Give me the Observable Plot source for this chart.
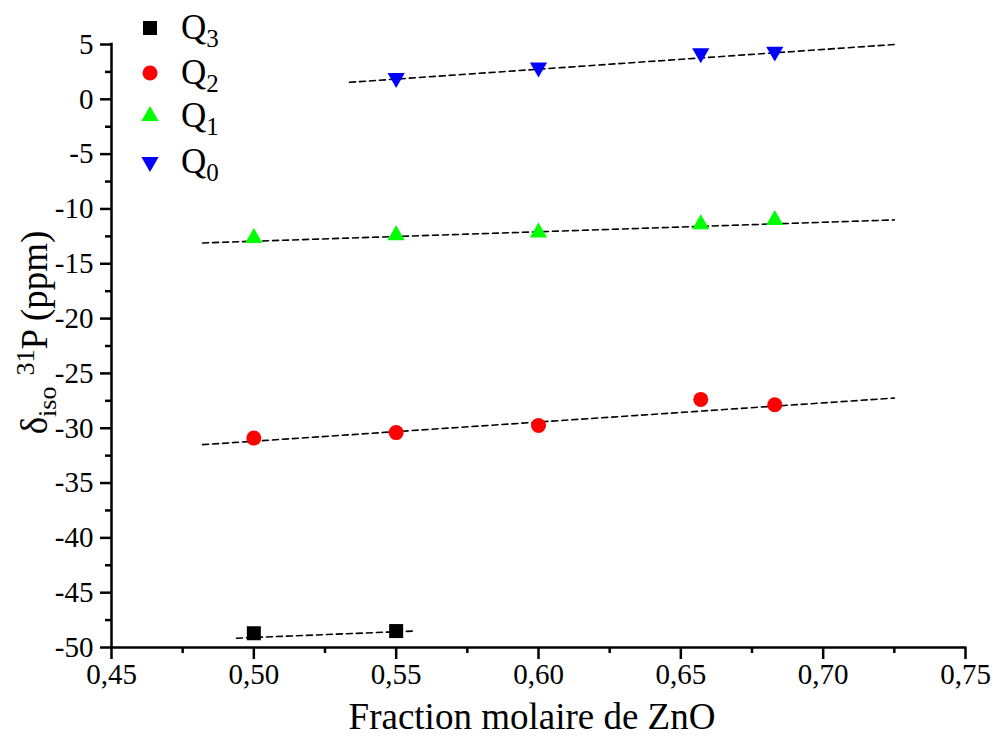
<!DOCTYPE html>
<html>
<head>
<meta charset="utf-8">
<script src="https://cdn.jsdelivr.net/npm/d3@7"></script>
<script src="https://cdn.jsdelivr.net/npm/@observablehq/plot@0.6"></script>
<style>
  html, body { margin: 0; padding: 0; background: #fff; }
  #chart { position: relative; width: 994px; height: 736px; }
  #chart svg text, #chart svg tspan { font-family: "Liberation Serif", "Times New Roman", serif !important; }
</style>
</head>
<body>
<div id="chart"></div>
<script>
// ---- data ----
const q3X = [0.50, 0.55];
const q3Y = [-48.7, -48.5];
const q2X = [0.50, 0.55, 0.60, 0.657, 0.683];
const q2Y = [-30.9, -30.4, -29.75, -27.37, -27.86];
const q1X = [0.50, 0.55, 0.60, 0.657, 0.683];
const q1Y = [-12.65, -12.4, -12.15, -11.4, -11.0];
const q0X = [0.55, 0.60, 0.657, 0.683];
const q0Y = [1.95, 2.9, 4.2, 4.35];

// dashed linear fits (end points)
const fit3X = [0.4939, 0.556];
const fit3Y = [-49.15, -48.5];
const fit2X = [0.482, 0.725];
const fit2Y = [-31.5, -27.25];
const fit1X = [0.482, 0.725];
const fit1Y = [-13.1, -11.0];
const fit0X = [0.5336, 0.725];
const fit0Y = [1.55, 5.0];

const seriesNames = ["3", "2", "1", "0"]; // Q subscripts
const seriesColors = ["#000000", "#ff0000", "#00ff00", "#0000ff"];

const xMajor = [0.45, 0.50, 0.55, 0.60, 0.65, 0.70, 0.75];
const xMinor = [0.475, 0.525, 0.575, 0.625, 0.675, 0.725];
const yMajor = [-50, -45, -40, -35, -30, -25, -20, -15, -10, -5, 0, 5];
const yMinor = [-47.5, -42.5, -37.5, -32.5, -27.5, -22.5, -17.5, -12.5, -7.5, -2.5, 2.5];

const xTitle = "Fraction molaire de ZnO";

// ---- symbols ----
const triDown = {
  draw(ctx, size) {
    const y = -Math.sqrt(size / (Math.sqrt(3) * 3));
    ctx.moveTo(0, -y * 2);
    ctx.lineTo(-Math.sqrt(3) * y, y);
    ctx.lineTo(Math.sqrt(3) * y, y);
    ctx.closePath();
  }
};
const symbols = [d3.symbolSquare, d3.symbolCircle, d3.symbolTriangle, triDown];
const radii = [7.9, 7.5, 6.4, 6.4];

const toRows = (xs, ys) => xs.map((x, i) => ({x, y: ys[i]}));
const pts = [toRows(q3X, q3Y), toRows(q2X, q2Y), toRows(q1X, q1Y), toRows(q0X, q0Y)];
const fits = [toRows(fit3X, fit3Y), toRows(fit2X, fit2Y), toRows(fit1X, fit1Y), toRows(fit0X, fit0Y)];

const fmtX = d => d3.format(".2f")(d).replace(".", ",");
const fmtY = d => String(d);

const FONT = "'Liberation Serif', 'Times New Roman', serif";

const chart = Plot.plot({
  width: 994,
  height: 736,
  marginLeft: 111,
  marginRight: 29,
  marginTop: 44,
  marginBottom: 89,
  x: {domain: [0.45, 0.75]},
  y: {domain: [-50, 5]},
  style: {fontFamily: FONT, fontSize: "28px", color: "black", background: "white", overflow: "visible"},
  marks: [
    Plot.axisX(xMajor, {anchor: "bottom", tickSize: 12, tickPadding: 4, tickFormat: fmtX, strokeWidth: 2.5, label: null, fontFamily: FONT, fontSize: 29}),
    Plot.axisX(xMinor, {anchor: "bottom", tickSize: 6, text: null, strokeWidth: 2.5, label: null}),
    Plot.axisY(yMajor, {anchor: "left", tickSize: 11, tickPadding: 7, tickFormat: fmtY, strokeWidth: 2.5, label: null, fontFamily: FONT, fontSize: 29}),
    Plot.axisY(yMinor, {anchor: "left", tickSize: 6, text: null, strokeWidth: 2.5, label: null}),
    Plot.ruleY([-50], {strokeWidth: 2.5, strokeLinecap: "square"}),
    Plot.ruleX([0.45], {strokeWidth: 2.5, strokeLinecap: "square"}),
    ...fits.map(f => Plot.line(f, {x: "x", y: "y", stroke: "black", strokeWidth: 1.6, strokeDasharray: "6,4"})),
    ...pts.map((p, i) => Plot.dot(p, {x: "x", y: "y", symbol: symbols[i], r: radii[i], fill: seriesColors[i], stroke: "none"}))
  ]
});

document.getElementById("chart").appendChild(chart);

const svg = d3.select(chart);
const xs = chart.scale("x");
const ys = chart.scale("y");

// x title
svg.append("text")
  .attr("x", (xs.range[0] + xs.range[1]) / 2 - 6)
  .attr("y", 729)
  .attr("text-anchor", "middle")
  .attr("font-family", FONT)
  .attr("font-size", 37)
  .attr("fill", "black")
  .text(xTitle);

// y title
const yt = svg.append("text")
  .attr("transform", `translate(47,${(ys.range[0] + ys.range[1]) / 2 - 13}) rotate(-90)`)
  .attr("text-anchor", "middle")
  .attr("font-family", FONT)
  .attr("font-size", 37)
  .attr("fill", "black");
yt.append("tspan").text("δ");
yt.append("tspan").attr("font-size", 26).attr("dy", 9).text("iso");
yt.append("tspan").attr("font-size", 26).attr("dy", -22).attr("dx", 11).text("31");
yt.append("tspan").attr("dy", 13).text("P (ppm)");

// legend
const legendY = [28, 73, 116, 162];
const lg = svg.append("g").attr("text-anchor", "start");
seriesNames.forEach((name, i) => {
  lg.append("path")
    .attr("transform", `translate(150,${legendY[i]})`)
    .attr("d", d3.symbol(symbols[i], radii[i] * radii[i] * Math.PI)())
    .attr("fill", seriesColors[i]);
  const t = lg.append("text")
    .attr("x", 181)
    .attr("y", legendY[i] + 11)
    .attr("text-anchor", "start")
    .attr("font-family", FONT)
    .attr("font-size", 35)
    .attr("fill", "black");
  t.append("tspan").text("Q");
  t.append("tspan").attr("font-size", 25).attr("dy", 8).text(name);
});
</script>
</body>
</html>
